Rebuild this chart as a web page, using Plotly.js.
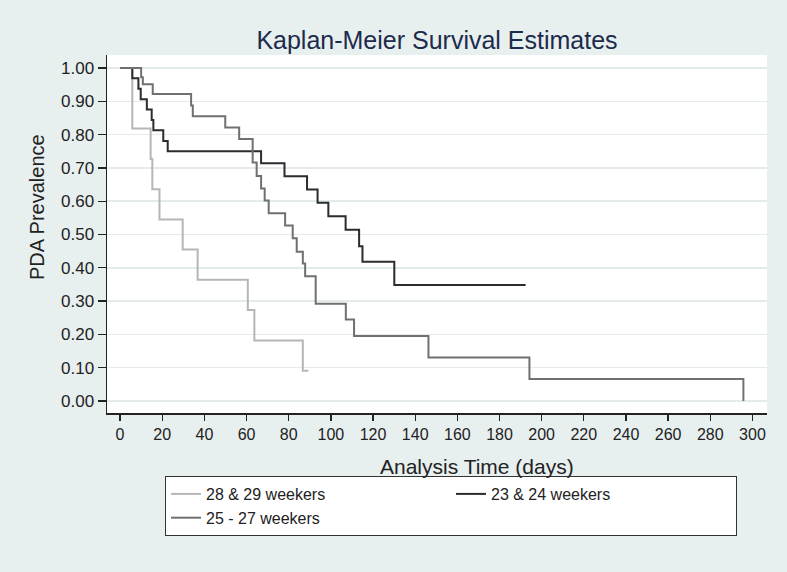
<!DOCTYPE html>
<html>
<head>
<meta charset="utf-8">
<script src="https://cdn.plot.ly/plotly-3.0.1.min.js"></script>
<style>html,body{margin:0;padding:0;background:#e8efef;}#chart{width:787px;height:572px;}</style>
</head>
<body>
<div id="chart"></div>
<script>
// Kaplan-Meier step data (days, survival estimate)
const seriesNames = ["28 & 29 weekers", "23 & 24 weekers", "25 - 27 weekers"];

const days2829 = [0, 5.8, 14.5, 15.3, 18.7, 29.7, 36.8, 60.6, 63.7, 86.7, 89.3];
const surv2829 = [1.0, 0.818, 0.727, 0.636, 0.545, 0.455, 0.364, 0.273, 0.182, 0.091, 0.091];

const days2324 = [0, 5.8, 8.7, 9.8, 12.7, 15.0, 15.8, 20.5, 22.6, 66.9, 78.0, 88.7, 93.7, 98.8, 107.0, 113.4, 115.0, 130.1, 192.4];
const surv2324 = [1.0, 0.969, 0.938, 0.906, 0.875, 0.844, 0.813, 0.781, 0.75, 0.714, 0.675, 0.635, 0.595, 0.555, 0.514, 0.465, 0.418, 0.348, 0.348];

const days2527 = [0, 10.0, 10.8, 15.5, 33.7, 34.5, 49.9, 56.5, 62.9, 64.8, 66.9, 68.6, 70.5, 78.3, 81.9, 83.8, 86.7, 87.8, 92.8, 107.1, 111.0, 146.3, 194.2, 295.7];
const surv2527 = [1.0, 0.972, 0.951, 0.922, 0.887, 0.855, 0.821, 0.787, 0.716, 0.676, 0.638, 0.602, 0.564, 0.527, 0.489, 0.448, 0.413, 0.375, 0.292, 0.245, 0.195, 0.131, 0.066, 0.0];

const xTicks = [0, 20, 40, 60, 80, 100, 120, 140, 160, 180, 200, 220, 240, 260, 280, 300];
const yTicks = [0, 0.1, 0.2, 0.3, 0.4, 0.5, 0.6, 0.7, 0.8, 0.9, 1.0];

const font = "Liberation Sans, Arial, Helvetica, sans-serif";

const traces = [
  {x: days2829, y: surv2829, name: seriesNames[0], mode: "lines", line: {shape: "hv", color: "#b6b6b6", width: 2}},
  {x: days2324, y: surv2324, name: seriesNames[1], mode: "lines", line: {shape: "hv", color: "#2b2b30", width: 2}},
  {x: days2527, y: surv2527, name: seriesNames[2], mode: "lines", line: {shape: "hv", color: "#707070", width: 2}}
];

const layout = {
  width: 787, height: 572,
  paper_bgcolor: "#e8efef",
  plot_bgcolor: "#ffffff",
  margin: {l: 107, r: 20, t: 55, b: 159},
  font: {family: font, color: "#222222", size: 16},
  title: {text: "Kaplan-Meier Survival Estimates", font: {family: font, size: 25, color: "#1c2b4b"},
          x: 0.5, xref: "paper", xanchor: "center", y: 0.93, yref: "container", yanchor: "middle"},
  xaxis: {
    range: [-6.2, 306.9], tickvals: xTicks, ticktext: xTicks.map(String),
    ticks: "outside", ticklen: 6, tickcolor: "#222", tickwidth: 1.3,
    showline: true, linecolor: "#222", linewidth: 1.5, mirror: false,
    showgrid: false, zeroline: false, tickfont: {size: 16, color: "#222"}
  },
  yaxis: {
    range: [-0.036, 1.039], tickvals: yTicks, ticktext: yTicks.map(v => v.toFixed(2)),
    ticks: "outside", ticklen: 8, tickcolor: "#222", tickwidth: 1.3,
    showline: true, linecolor: "#222", linewidth: 1.5,
    showgrid: true, gridcolor: "#e3ebeb", gridwidth: 1.5, zeroline: false,
    tickfont: {size: 17, color: "#222"}
  },
  annotations: [
    {text: "Analysis Time (days)", xref: "paper", yref: "paper", x: (477 - 107) / 660, y: (413 - 466) / 358,
     xanchor: "center", yanchor: "middle", showarrow: false, font: {size: 21, color: "#222"}},
    {text: "PDA Prevalence", xref: "paper", yref: "paper", x: (37 - 107) / 660, y: (413 - 207) / 358,
     xanchor: "center", yanchor: "middle", textangle: -90, showarrow: false, font: {size: 20, color: "#222"}}
  ],
  showlegend: true,
  legend: {
    orientation: "h", x: (451 - 107) / 660, xanchor: "center", y: (413 - 476) / 358, yanchor: "top",
    bgcolor: "#ffffff", bordercolor: "#333333", borderwidth: 1,
    font: {size: 16, color: "#222"}, entrywidth: 240, entrywidthmode: "pixels",
    tracegroupgap: 0, itemwidth: 30
  }
};

Plotly.newPlot("chart", traces, layout, {displayModeBar: false, staticPlot: true});
</script>
</body>
</html>
